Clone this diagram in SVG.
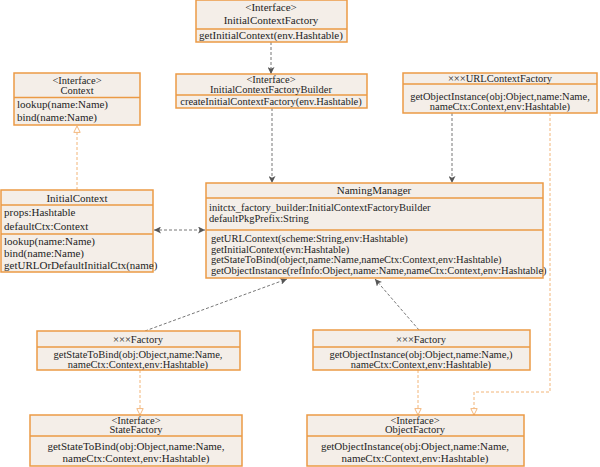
<svg xmlns="http://www.w3.org/2000/svg" width="600" height="467" viewBox="0 0 600 467">
<style>
.box{fill:#f4eee8;stroke:#eb9a45;stroke-width:1.5}
.div{stroke:#eb9a45;stroke-width:1.5}
text{font-family:"Liberation Serif","Times New Roman",serif;font-size:11px;fill:#1e1e1e}
.t{font-size:10.5px}
.c{text-anchor:middle}
.g{fill:none;stroke:#666;stroke-width:0.9;stroke-dasharray:3,2}
.o{fill:none;stroke:#f2b578;stroke-width:1;stroke-dasharray:3,2}
</style>
<defs>
<marker id="ga" viewBox="0 0 8 8" refX="8" refY="4" markerWidth="7" markerHeight="7" markerUnits="userSpaceOnUse" orient="auto-start-reverse">
<path d="M0,0 L8,4 L0,8 L2,4 Z" fill="#555"/>
</marker>
<marker id="ot" viewBox="0 0 10 10" refX="9" refY="5" markerWidth="8" markerHeight="8" markerUnits="userSpaceOnUse" orient="auto">
<path d="M1,1 L9,5 L1,9 Z" fill="#fff" stroke="#f2b578" stroke-width="1.2"/>
</marker>
</defs>
<rect width="600" height="467" fill="#fff"/>
<g id="connectors">
<line class="g" x1="271" y1="42" x2="271" y2="74" marker-end="url(#ga)"/>
<line class="g" x1="272" y1="108" x2="272" y2="183" marker-end="url(#ga)"/>
<line class="g" x1="452" y1="113" x2="452" y2="183" marker-end="url(#ga)"/>
<line class="g" x1="154" y1="230" x2="205" y2="230" marker-start="url(#ga)" marker-end="url(#ga)"/>
<line class="g" x1="145" y1="331" x2="287" y2="279" marker-end="url(#ga)"/>
<line class="g" x1="419" y1="330" x2="375" y2="279" marker-end="url(#ga)"/>
<line class="o" x1="77" y1="190" x2="77" y2="126" marker-end="url(#ot)"/>
<line class="o" x1="140" y1="370" x2="140" y2="415" marker-end="url(#ot)"/>
<line class="o" x1="418" y1="370" x2="418" y2="415" marker-end="url(#ot)"/>
<polyline class="o" points="550,113 550,392 474,392 474,415" marker-end="url(#ot)"/>
</g>
<g id="InitialContextFactory">
<rect class="box" x="196" y="0" width="151" height="42"/>
<line class="div" x1="196" y1="29" x2="347" y2="29"/>
<text class="c" x="271" y="11">&lt;Interface&gt;</text>
<text class="c" x="271" y="24">InitialContextFactory</text>
<text class="c" x="271" y="39">getInitialContext(env.Hashtable)</text>
</g>
<g id="Context">
<rect class="box" x="14" y="73" width="126" height="52"/>
<line class="div" x1="14" y1="97.5" x2="140" y2="97.5"/>
<text class="c t" x="77" y="83.5">&lt;Interface&gt;</text>
<text class="c t" x="77" y="94">Context</text>
<text x="17" y="108">lookup(name:Name)</text>
<text x="17" y="121">bind(name:Name)</text>
</g>
<g id="InitialContextFactoryBuilder">
<rect class="box" x="176" y="74" width="191" height="34"/>
<line class="div" x1="176" y1="95" x2="367" y2="95"/>
<text class="c t" x="271" y="83">&lt;Interface&gt;</text>
<text class="c t" x="271" y="93">InitialContextFactoryBuilder</text>
<text class="c t" x="271" y="105">createInitialContextFactory(env.Hashtable)</text>
</g>
<g id="URLContextFactory">
<rect class="box" x="403" y="73" width="194" height="40"/>
<line class="div" x1="403" y1="84" x2="597" y2="84"/>
<text class="c t" x="500" y="82">×××URLContextFactory</text>
<text class="c t" x="500" y="99.5">getObjectInstance(obj:Object,name:Name,</text>
<text class="c t" x="500" y="110">nameCtx:Context,env:Hashtable)</text>
</g>
<g id="InitialContext">
<rect class="box" x="1" y="190" width="152" height="82"/>
<line class="div" x1="1" y1="205" x2="153" y2="205"/>
<line class="div" x1="1" y1="234" x2="153" y2="234"/>
<text class="c" x="77" y="202">InitialContext</text>
<text x="4" y="216">props:Hashtable</text>
<text x="4" y="230">defaultCtx:Context</text>
<text x="4" y="245">lookup(name:Name)</text>
<text x="4" y="257">bind(name:Name)</text>
<text x="4" y="269">getURLOrDefaultInitialCtx(name)</text>
</g>
<g id="NamingManager">
<rect class="box" x="206" y="183" width="337" height="95"/>
<line class="div" x1="206" y1="198" x2="543" y2="198"/>
<line class="div" x1="206" y1="230" x2="543" y2="230"/>
<text class="c" x="374" y="194">NamingManager</text>
<text class="t" x="209" y="211">initctx_factory_builder:InitialContextFactoryBuilder</text>
<text class="t" x="209" y="221.5">defaultPkgPrefix:String</text>
<text class="t" x="211" y="242">getURLContext(scheme:String,env:Hashtable)</text>
<text class="t" x="211" y="252.5">getInitialContext(evn:Hashtable)</text>
<text class="t" x="211" y="263">getStateToBind(object,name:Name,nameCtx:Context,env:Hashtable)</text>
<text class="t" x="211" y="273.5">getObjectInstance(refInfo:Object,name:Name,nameCtx:Context,env:Hashtable)</text>
</g>
<g id="StateFactoryImpl">
<rect class="box" x="37" y="331" width="203" height="39"/>
<line class="div" x1="37" y1="347" x2="240" y2="347"/>
<text class="c t" x="138" y="343">×××Factory</text>
<text class="c t" x="138" y="357.5">getStateToBind(obj:Object,name:Name,</text>
<text class="c t" x="138" y="367.5">nameCtx:Context,env:Hashtable)</text>
</g>
<g id="ObjectFactoryImpl">
<rect class="box" x="313" y="330" width="217" height="40"/>
<line class="div" x1="313" y1="347" x2="530" y2="347"/>
<text class="c t" x="421" y="343">×××Factory</text>
<text class="c t" x="421" y="357.5">getObjectInstance(obj:Object,name:Name,)</text>
<text class="c t" x="421" y="367.5">nameCtx:Context,env:Hashtable)</text>
</g>
<g id="StateFactory">
<rect class="box" x="30" y="415" width="212" height="51"/>
<line class="div" x1="30" y1="436" x2="242" y2="436"/>
<text class="c t" x="136" y="423.5">&lt;Interface&gt;</text>
<text class="c t" x="136" y="433">StateFactory</text>
<text class="c" x="136" y="450">getStateToBind(obj:Object,name:Name,</text>
<text class="c" x="136" y="462">nameCtx:Context,env:Hashtable)</text>
</g>
<g id="ObjectFactory">
<rect class="box" x="307" y="415" width="217" height="51"/>
<line class="div" x1="307" y1="436" x2="524" y2="436"/>
<text class="c t" x="415" y="423.5">&lt;Interface&gt;</text>
<text class="c t" x="415" y="433">ObjectFactory</text>
<text class="c" x="415" y="450">getObjectInstance(obj:Object,name:Name,</text>
<text class="c" x="415" y="462">nameCtx:Context,env:Hashtable)</text>
</g>
</svg>
